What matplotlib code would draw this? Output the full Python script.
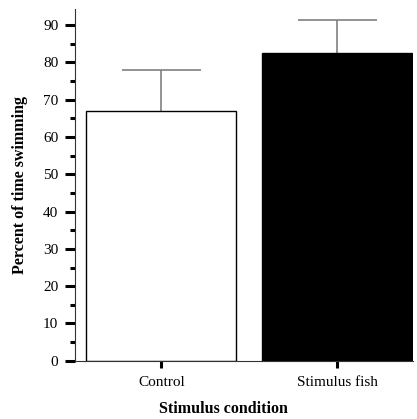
import matplotlib.pyplot as plt
from matplotlib.ticker import MultipleLocator

# data
conditions = ["Control", "Stimulus fish"]
percent_swimming = [67, 82.4]
error_upper = [11, 9]
bar_colors = ["white", "black"]
y_ticks = [0, 10, 20, 30, 40, 50, 60, 70, 80, 90]

plt.rcParams['font.family'] = ['Liberation Serif', 'DejaVu Serif']

fig = plt.figure(figsize=(4.17, 4.19), dpi=100)
ax = fig.add_axes([0.18, 0.139, 0.81, 0.8395])

x = list(range(len(conditions)))
ax.bar(x, percent_swimming, width=0.855, color=bar_colors,
       edgecolor="black", linewidth=1, zorder=2)

# upper-only error bars, grey
tops = [v + e for v, e in zip(percent_swimming, error_upper)]
cap = 0.225
ax.vlines(x, percent_swimming, tops, color="#808080", linewidth=1.2, zorder=1)
ax.hlines(tops, [i - cap for i in x], [i + cap for i in x], color="#808080", linewidth=1.2, zorder=1)

ax.set_xlim(-0.49, 1.43)
ax.set_ylim(0, 94.3)
ax.set_yticks(y_ticks)
ax.yaxis.set_minor_locator(MultipleLocator(5))
ax.set_xticks(x)
ax.set_xticklabels(conditions)

ax.spines["top"].set_visible(False)
ax.spines["right"].set_visible(False)
ax.spines["left"].set_color("#333333")
ax.spines["bottom"].set_color("#333333")

ax.tick_params(axis="y", which="major", direction="out", length=7, width=2.2, labelsize=11, pad=5)
ax.tick_params(axis="y", which="minor", direction="out", length=3.5, width=2.2)
ax.tick_params(axis="x", direction="out", length=5, width=2.2, labelsize=11, pad=6)

ax.set_ylabel("Percent of time swimming", fontsize=11.5, fontweight="bold")
ax.yaxis.set_label_coords(-0.138, 0.5)
ax.set_xlabel("Stimulus condition", fontsize=11.5, fontweight="bold")
ax.xaxis.set_label_coords(0.44, -0.113)

fig.savefig("out.png", dpi=100)
